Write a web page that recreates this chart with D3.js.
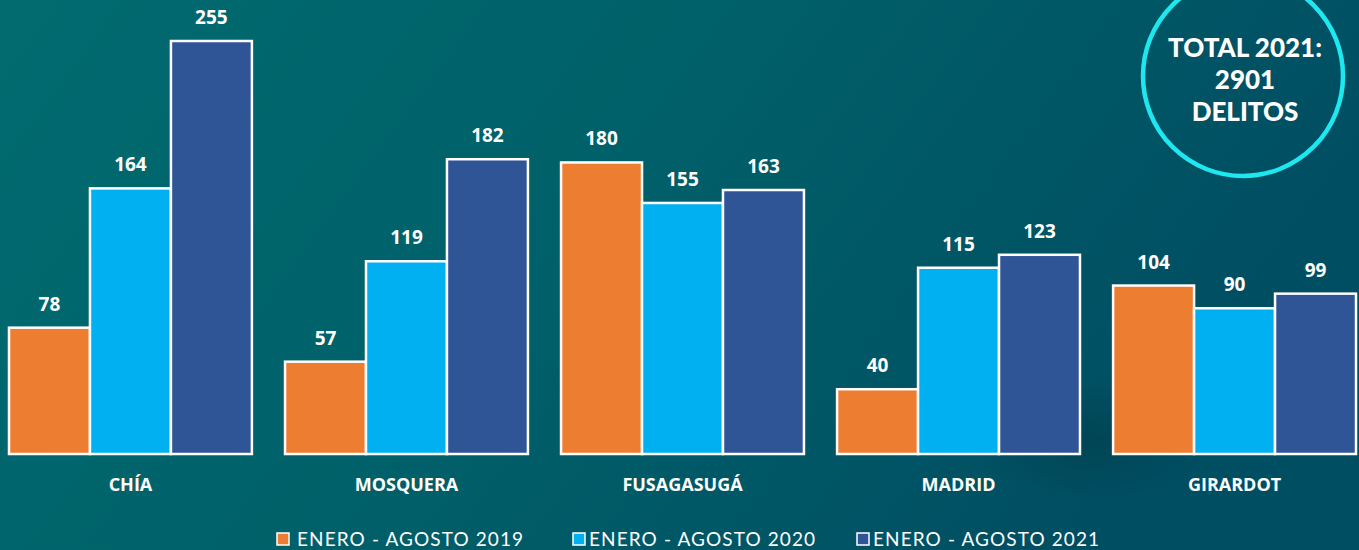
<!DOCTYPE html>
<html><head><meta charset="utf-8">
<script src="https://cdn.jsdelivr.net/npm/d3@7"></script>
<style>html,body{margin:0;padding:0;overflow:hidden;background:#005e6a}</style>
</head><body>
<script>
const categories = ["CHÍA","MOSQUERA","FUSAGASUGÁ","MADRID","GIRARDOT"];
const seriesNames = ["ENERO - AGOSTO 2019","ENERO - AGOSTO 2020","ENERO - AGOSTO 2021"];
const values2019 = [78,57,180,40,104];
const values2020 = [164,119,155,115,90];
const values2021 = [255,182,163,123,99];
const colors = ["#ed7d31","#00b0f0","#2f5597"];
const totalLines = ["TOTAL 2021:","2901","DELITOS"];

const W=1359,H=550;
const svg=d3.select("body").append("svg").attr("width",W).attr("height",H);
const defs=svg.append("defs");
const g1=defs.append("linearGradient").attr("id","bg").attr("x1","0").attr("y1","0").attr("x2","1").attr("y2","0.3");
g1.append("stop").attr("offset","0").attr("stop-color","#006b70");
g1.append("stop").attr("offset","0.5").attr("stop-color","#006069");
g1.append("stop").attr("offset","1").attr("stop-color","#004e62");
svg.append("rect").attr("width",W).attr("height",H).attr("fill","url(#bg)");
const rg=defs.append("radialGradient").attr("id","shade");
rg.append("stop").attr("offset","0").attr("stop-color","#003a48").attr("stop-opacity",0.5);
rg.append("stop").attr("offset","1").attr("stop-color","#003a48").attr("stop-opacity",0);
svg.append("ellipse").attr("cx",1090).attr("cy",440).attr("rx",120).attr("ry",60).attr("fill","url(#shade)");

const series=[values2019,values2020,values2021];
const x0=d3.scaleBand().domain(categories).range([9,1356]).paddingInner(0.12).paddingOuter(0);
const x1=d3.scaleBand().domain([0,1,2]).range([0,x0.bandwidth()]);
const y=d3.scaleLinear().domain([0,255]).range([454,41]);

const data=[];
categories.forEach((c,i)=>series.forEach((s,j)=>data.push({c,j,v:s[i]})));

svg.selectAll("rect.bar").data(data).enter().append("rect").attr("class","bar")
 .attr("x",d=>x0(d.c)+x1(d.j)).attr("width",x1.bandwidth())
 .attr("y",d=>y(d.v)).attr("height",d=>y(0)-y(d.v))
 .attr("fill",d=>colors[d.j]).attr("stroke","#fff").attr("stroke-width",2.5);

svg.selectAll("text.val").data(data).enter().append("text").attr("class","val")
 .attr("x",d=>x0(d.c)+x1(d.j)+x1.bandwidth()/2).attr("y",d=>y(d.v)-17)
 .attr("text-anchor","middle").attr("fill","#fff")
 .style("font-family","Open Sans").style("font-weight","bold").style("font-size","19px")
 .text(d=>d.v);

const xAxis=svg.append("g").attr("transform","translate(0,454)").call(d3.axisBottom(x0).tickSize(0).tickPadding(24));
xAxis.select(".domain").remove();
xAxis.selectAll("text").attr("fill","#fff").style("font-family","Open Sans").style("font-weight","bold").style("font-size","18px");

// legend
const legX=[277,573,857];
const leg=svg.selectAll("g.leg").data(seriesNames).enter().append("g").attr("class","leg")
 .attr("transform",(d,i)=>`translate(${legX[i]},533)`);
leg.append("rect").attr("width",12).attr("height",12).attr("fill",(d,i)=>colors[i]).attr("stroke","#fff").attr("stroke-width",1.5);
leg.append("text").attr("x",(d,i)=>i==0?20:16).attr("y",13).attr("fill","#fff")
 .style("font-family","Lato").style("font-size","19px").style("letter-spacing","1.1px").text(d=>d);

// total circle
svg.append("circle").attr("cx",1243).attr("cy",76).attr("r",100).attr("fill","none").attr("stroke","#1ee8ef").attr("stroke-width",4.5);
svg.selectAll("text.tot").data(totalLines).enter().append("text").attr("class","tot")
 .attr("x",1245).attr("y",(d,i)=>57+i*32).attr("text-anchor","middle").attr("fill","#fff")
 .style("font-family","Lato").style("font-weight","900").style("font-size","26px").text(d=>d);
</script>
</body></html>
